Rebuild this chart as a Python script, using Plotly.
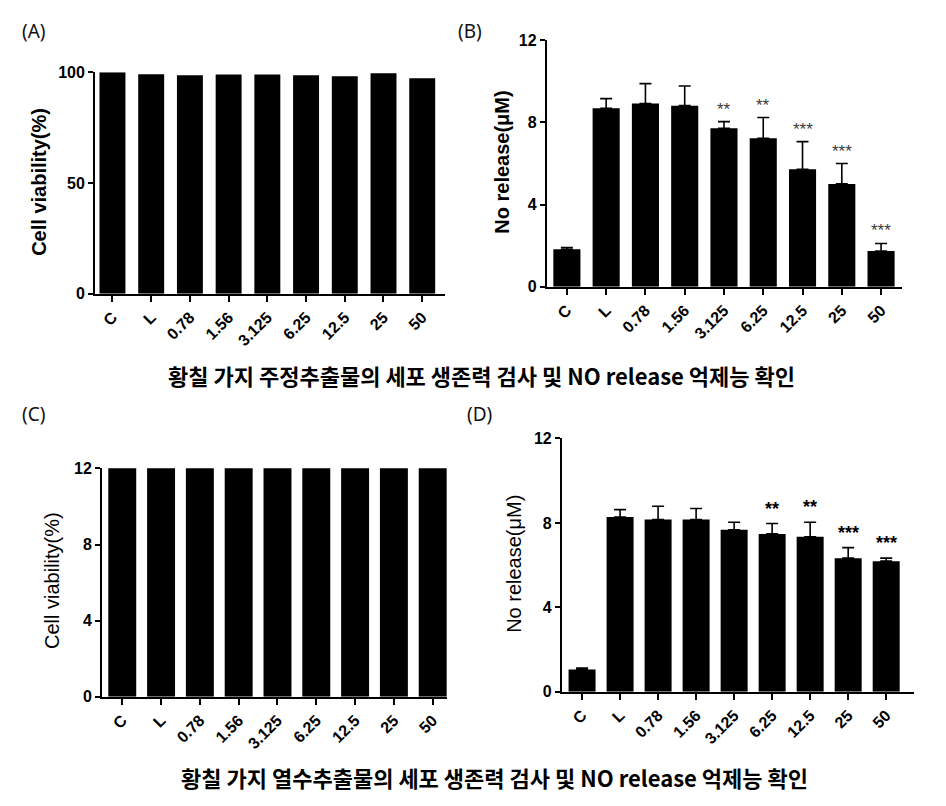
import plotly.graph_objects as go

W, H = 930, 800
# empirical mapping from target page pixel -> figure pixel (page offset/scale of the viewer)
AX, BX = 0.996, 9.3
AY, BY = 0.981, 15.6

categories = ["C", "L", "0.78", "1.56", "3.125", "6.25", "12.5", "25", "50"]

# (A) Cell viability, ethanol extract
viab_A = [100, 99.1, 98.6, 99.0, 99.0, 98.6, 98.2, 99.6, 97.3]
# (B) NO release, ethanol extract (mean, upper error)
no_B = [1.83, 8.69, 8.92, 8.82, 7.72, 7.23, 5.72, 5.01, 1.74]
no_B_err = [0.08, 0.47, 0.97, 0.96, 0.32, 1.01, 1.35, 0.99, 0.37]
sig_B = ["", "", "", "", "**", "**", "***", "***", "***"]
# (C) Cell viability, hot-water extract (bars exceed axis maximum of 12)
viab_C = [100, 98.8, 99.1, 98.5, 98.0, 98.4, 97.7, 98.9, 97.0]
# (D) NO release, hot-water extract
no_D = [1.06, 8.28, 8.16, 8.16, 7.67, 7.48, 7.34, 6.33, 6.19]
no_D_err = [0.07, 0.35, 0.63, 0.52, 0.36, 0.49, 0.69, 0.50, 0.14]
sig_D = ["", "", "", "", "", "**", "**", "***", "***"]

caption_1 = "황칠 가지 주정추출물의 세포 생존력 검사 및 NO release 억제능 확인"
caption_2 = "황칠 가지 열수추출물의 세포 생존력 검사 및 NO release 억제능 확인"


def px_x(p):
    return ((p - BX) / AX) / W


def px_y(p):
    return 1 - ((p - BY) / AY) / H


FONT = "Liberation Sans, Arial, sans-serif"
KFONT = "Noto Sans CJK KR, sans-serif"

fig = go.Figure()

# panel geometry in target pixels: (left, right, top, bottom)
panels = {
    "A": dict(box=(96, 445, 72, 294), xr=[-0.45, 8.6], yr=[0, 100], dt=50, bw=0.67),
    "B": dict(box=(546, 900, 40, 287), xr=[-0.51, 8.54], yr=[0, 12], dt=4, bw=0.69),
    "C": dict(box=(103, 447, 469, 698), xr=[-0.52, 8.38], yr=[0, 12], dt=4, bw=0.72),
    "D": dict(box=(561, 912, 439, 693), xr=[-0.53, 8.74], yr=[0, 12], dt=4, bw=0.71),
}

data = {
    "A": (viab_A, None),
    "B": (no_B, no_B_err),
    "C": (viab_C, None),
    "D": (no_D, no_D_err),
}

layout = dict(
    width=W, height=H, margin=dict(l=0, r=0, t=0, b=0),
    paper_bgcolor="white", plot_bgcolor="white", showlegend=False,
)

for i, key in enumerate(["A", "B", "C", "D"]):
    n = "" if i == 0 else str(i + 1)
    p = panels[key]
    l, r, t, b = p["box"]
    vals, err = data[key]
    tr = dict(
        x=categories, y=vals, marker=dict(color="black", line=dict(width=0)),
        width=p["bw"], xaxis="x" + n, yaxis="y" + n,
    )
    if err is not None:
        tr["error_y"] = dict(type="data", symmetric=False, array=err,
                             arrayminus=[0] * len(err), color="black",
                             thickness=1.6, width=6)
    fig.add_trace(go.Bar(**tr))
    layout["xaxis" + n] = dict(
        domain=[px_x(l), px_x(r)], range=p["xr"], anchor="y" + n,
        type="category", showline=True, linecolor="black", linewidth=2,
        ticks="outside", ticklen=6, tickwidth=2, tickcolor="black",
        tickangle=-45, tickfont=dict(family=FONT, size=16, color="black", weight="bold"),
        showgrid=False, zeroline=False, fixedrange=True,
    )
    layout["yaxis" + n] = dict(
        domain=[px_y(b), px_y(t)], range=p["yr"], anchor="x" + n,
        showline=True, linecolor="black", linewidth=2, dtick=p["dt"], tick0=0,
        ticks="outside", ticklen=5, tickwidth=2, tickcolor="black",
        tickfont=dict(family=FONT, size=16, color="black", weight="bold"),
        showgrid=False, zeroline=False, fixedrange=True,
    )

annotations = []

# significance marks (x given as category index)
for idx, (v, e, s) in enumerate(zip(no_B, no_B_err, sig_B)):
    if s:
        annotations.append(dict(x=idx, y=v + e, xref="x2", yref="y2", text=s,
                                showarrow=False, yanchor="bottom", yshift=1,
                                font=dict(family=FONT, size=17, color="#3a3a3a")))
for idx, (v, e, s) in enumerate(zip(no_D, no_D_err, sig_D)):
    if s:
        annotations.append(dict(x=idx, y=v + e, xref="x4", yref="y4", text=s,
                                showarrow=False, yanchor="bottom", yshift=3,
                                font=dict(family=FONT, size=18, color="black", weight="bold")))

# y-axis titles
ytitles = [
    ("Cell viability(%)", 40, 182, "bold"),
    ("No release(μM)", 501, 162, "bold"),
    ("Cell viability(%)", 53, 581, "normal"),
    ("No release(μM)", 513, 565, "normal"),
]
for txt, xp, yp, wt in ytitles:
    annotations.append(dict(x=px_x(xp), y=px_y(yp), xref="paper", yref="paper",
                            text=txt, textangle=-90, showarrow=False,
                            xanchor="center", yanchor="middle",
                            font=dict(family=FONT, size=20, color="black", weight=wt)))

# panel labels (top row kept inside the figure's top edge)
for txt, xp, yp, top in [("(A)", 21, None, True), ("(B)", 456, None, True),
                         ("(C)", 21, 415, False), ("(D)", 464, 415, False)]:
    annotations.append(dict(x=px_x(xp), y=1 if top else px_y(yp), xref="paper", yref="paper",
                            text=txt, showarrow=False, xanchor="left",
                            yanchor="top" if top else "middle",
                            font=dict(family="Noto Sans, sans-serif", size=19, color="#111111")))

# captions
for txt, xp, yp in [(caption_1, 481, 375), (caption_2, 494, 778)]:
    annotations.append(dict(x=px_x(xp), y=px_y(yp), xref="paper", yref="paper",
                            text=txt, showarrow=False, xanchor="center", yanchor="middle",
                            font=dict(family=KFONT, size=22, color="black", weight="bold")))

layout["annotations"] = annotations
fig.update_layout(**layout)
fig.write_html("out.html")
